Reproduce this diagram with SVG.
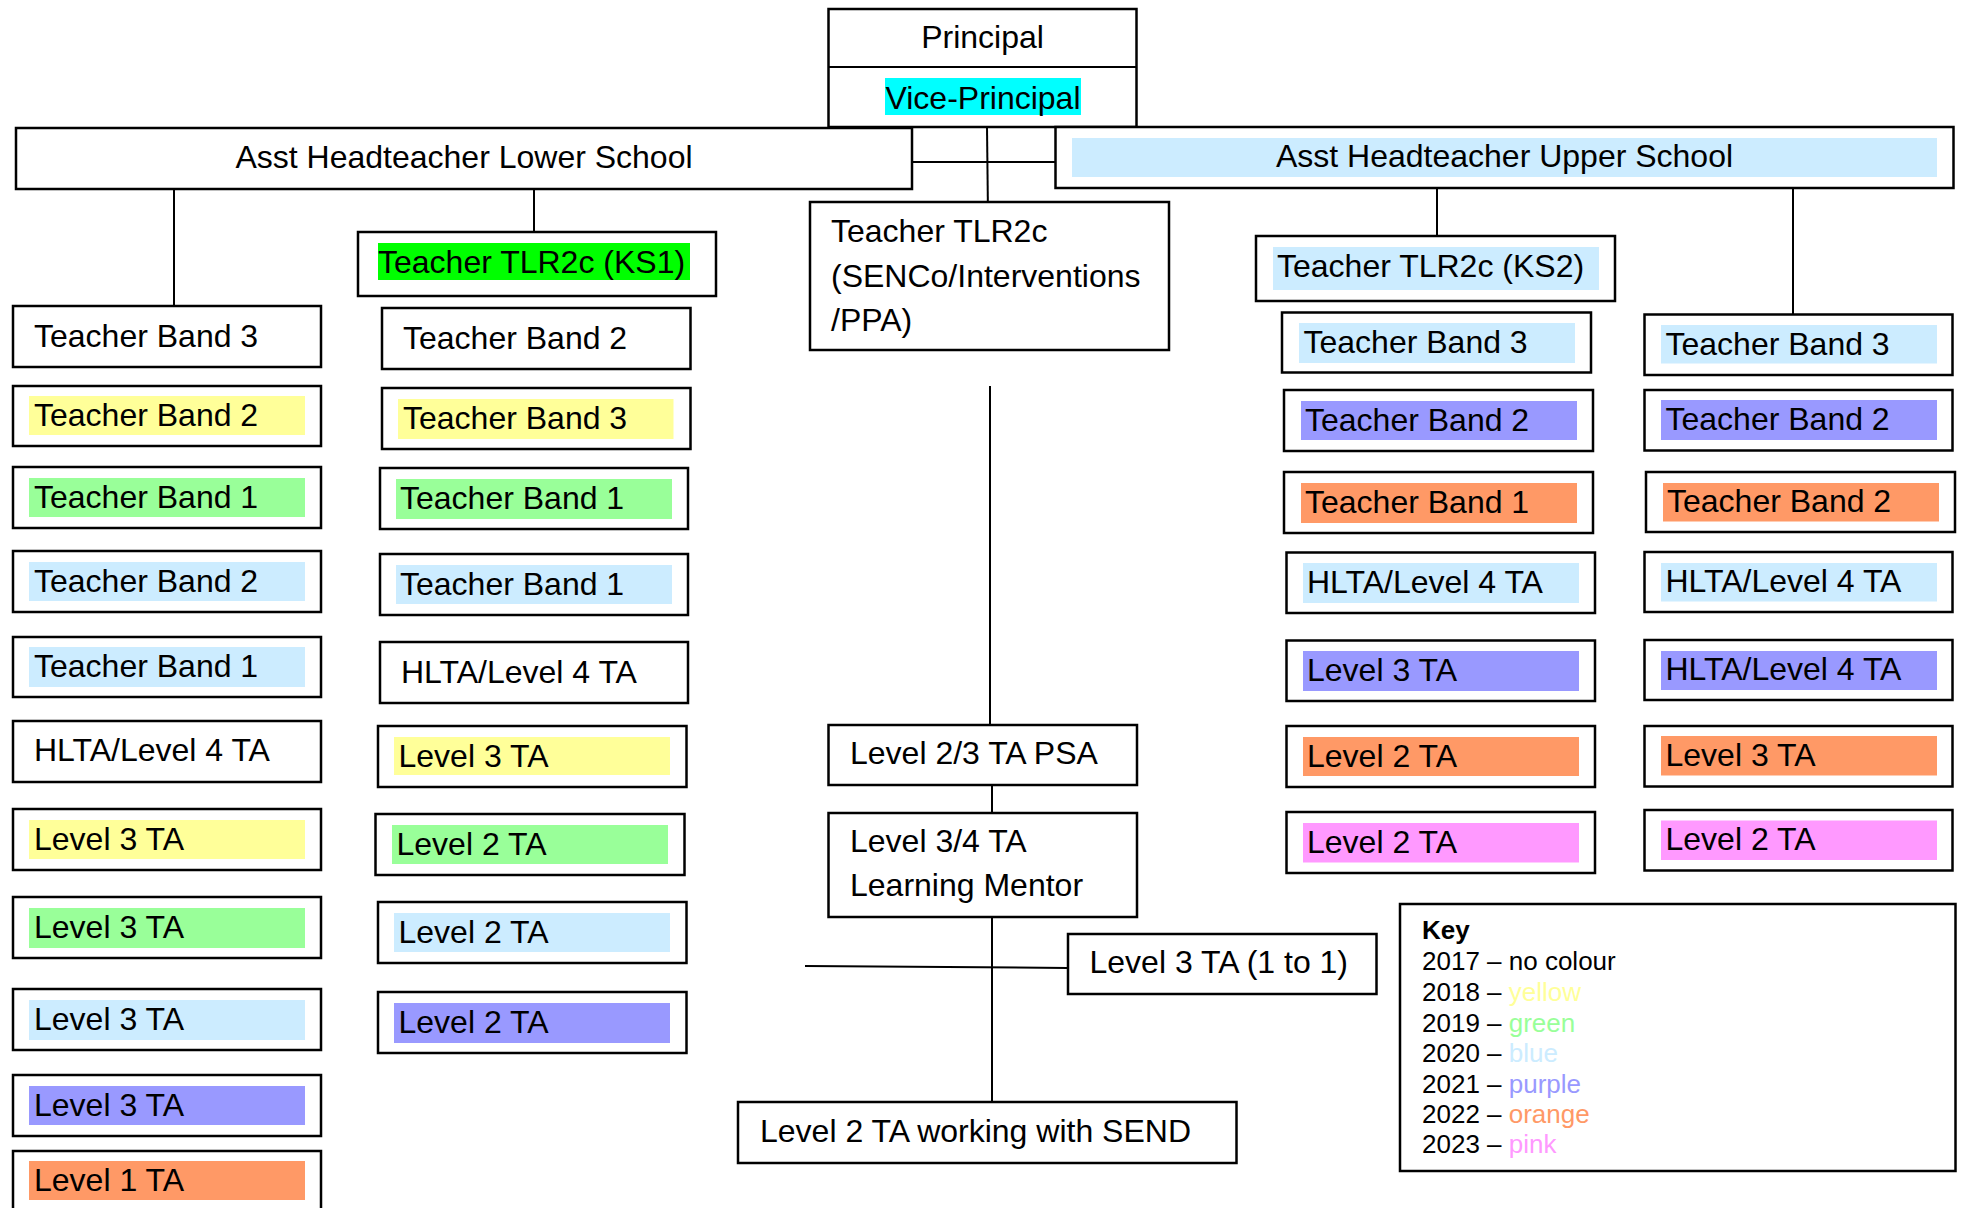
<svg xmlns="http://www.w3.org/2000/svg" width="1966" height="1208" viewBox="0 0 1966 1208">
<style>
.box{fill:#fff;stroke:#000;stroke-width:2.5}
.t{font-family:"Liberation Sans",Arial,sans-serif;font-size:32px;fill:#000}
.k{font-family:"Liberation Sans",Arial,sans-serif;font-size:26px;fill:#000}
.c{stroke:#000;stroke-width:2;fill:none}
.y{fill:#FFFF99}.g{fill:#99FF99}.b{fill:#CCECFF}.p{fill:#9999FF}.o{fill:#FF9966}.pk{fill:#FF99FF}
</style>
<rect width="1966" height="1208" fill="#fff"/>
<g id="connectors">
<line class="c" x1="174" y1="189" x2="174" y2="306"/>
<line class="c" x1="534" y1="189" x2="534" y2="232"/>
<line class="c" x1="912" y1="162" x2="1056" y2="162"/>
<line class="c" x1="987" y1="127" x2="988" y2="216"/>
<line class="c" x1="990" y1="386" x2="990" y2="725"/>
<line class="c" x1="992" y1="785" x2="992" y2="813"/>
<line class="c" x1="992" y1="917" x2="992" y2="1102"/>
<line class="c" x1="805" y1="966" x2="1068" y2="968"/>
<line class="c" x1="1437" y1="188" x2="1437" y2="236"/>
<line class="c" x1="1793" y1="188" x2="1793" y2="314"/>
</g>
<g id="principal">
<rect class="box" x="828.5" y="9" width="308" height="118"/>
<line class="c" x1="828.5" y1="67" x2="1136.5" y2="67"/>
<text class="t" x="982.5" y="48" text-anchor="middle">Principal</text>
<rect x="885" y="78" width="196" height="37" fill="#00FFFF"/>
<text class="t" x="983" y="109" text-anchor="middle">Vice-Principal</text>
</g>
<g id="lower-school">
<rect class="box" x="16" y="128" width="896" height="61"/>
<text class="t" x="464" y="168" text-anchor="middle">Asst Headteacher Lower School</text>
</g>
<g id="upper-school">
<rect class="box" x="1055.5" y="127" width="898" height="61"/>
<rect class="b" x="1072" y="138" width="865" height="39"/>
<text class="t" x="1504.5" y="167" text-anchor="middle">Asst Headteacher Upper School</text>
</g>
<g id="tlr-ks1">
<rect class="box" x="358" y="232" width="358" height="64"/>
<rect x="378" y="243" width="312" height="37" fill="#00FF00"/>
<text class="t" x="378" y="273">Teacher TLR2c (KS1)</text>
</g>
<g id="tlr-senco">
<rect class="box" x="810" y="202" width="359" height="148"/>
<text class="t" x="831" y="242">Teacher TLR2c</text>
<text class="t" x="831" y="287">(SENCo/Interventions</text>
<text class="t" x="831" y="331">/PPA)</text>
</g>
<g id="tlr-ks2">
<rect class="box" x="1256" y="236" width="359" height="65"/>
<rect class="b" x="1273" y="247" width="326" height="43"/>
<text class="t" x="1277" y="277">Teacher TLR2c (KS2)</text>
</g>

<!-- Column A -->
<g id="a1"><rect class="box" x="13" y="306" width="308" height="61"/><text class="t" x="34" y="347">Teacher Band 3</text></g>
<g id="a2"><rect class="box" x="13" y="386" width="308" height="60"/><rect class="y" x="29" y="396" width="276" height="39"/><text class="t" x="34" y="426">Teacher Band 2</text></g>
<g id="a3"><rect class="box" x="13" y="467" width="308" height="61"/><rect class="g" x="29" y="478" width="276" height="39"/><text class="t" x="34" y="508">Teacher Band 1</text></g>
<g id="a4"><rect class="box" x="13" y="551" width="308" height="61"/><rect class="b" x="29" y="562" width="276" height="39"/><text class="t" x="34" y="592">Teacher Band 2</text></g>
<g id="a5"><rect class="box" x="13" y="637" width="308" height="60"/><rect class="b" x="29" y="647" width="276" height="40"/><text class="t" x="34" y="677">Teacher Band 1</text></g>
<g id="a6"><rect class="box" x="13" y="721" width="308" height="61"/><text class="t" x="34" y="761">HLTA/Level 4 TA</text></g>
<g id="a7"><rect class="box" x="13" y="809" width="308" height="61"/><rect class="y" x="29" y="820" width="276" height="39"/><text class="t" x="34" y="850">Level 3 TA</text></g>
<g id="a8"><rect class="box" x="13" y="897" width="308" height="61"/><rect class="g" x="29" y="908" width="276" height="40"/><text class="t" x="34" y="938">Level 3 TA</text></g>
<g id="a9"><rect class="box" x="13" y="989" width="308" height="61"/><rect class="b" x="29" y="1000" width="276" height="40"/><text class="t" x="34" y="1030">Level 3 TA</text></g>
<g id="a10"><rect class="box" x="13" y="1075" width="308" height="61"/><rect class="p" x="29" y="1086" width="276" height="39"/><text class="t" x="34" y="1116">Level 3 TA</text></g>
<g id="a11"><rect class="box" x="13" y="1151" width="308" height="70"/><rect class="o" x="29" y="1161" width="276" height="39"/><text class="t" x="34" y="1191">Level 1 TA</text></g>

<!-- Column B -->
<g id="b1"><rect class="box" x="382" y="308" width="308.5" height="61"/><text class="t" x="403" y="349">Teacher Band 2</text></g>
<g id="b2"><rect class="box" x="382" y="388" width="308.5" height="61"/><rect class="y" x="398" y="399" width="275.5" height="40"/><text class="t" x="403" y="429">Teacher Band 3</text></g>
<g id="b3"><rect class="box" x="380" y="468" width="308" height="61"/><rect class="g" x="396" y="479" width="276" height="40"/><text class="t" x="400" y="509">Teacher Band 1</text></g>
<g id="b4"><rect class="box" x="380" y="554" width="308" height="61"/><rect class="b" x="396" y="565" width="276" height="39"/><text class="t" x="400" y="595">Teacher Band 1</text></g>
<g id="b5"><rect class="box" x="380" y="642" width="308" height="61"/><text class="t" x="401" y="683">HLTA/Level 4 TA</text></g>
<g id="b6"><rect class="box" x="378" y="726" width="308.5" height="61"/><rect class="y" x="394" y="737" width="276" height="38"/><text class="t" x="398.5" y="767">Level 3 TA</text></g>
<g id="b7"><rect class="box" x="375.5" y="814" width="309" height="61"/><rect class="g" x="392" y="825" width="276" height="39"/><text class="t" x="396.5" y="855">Level 2 TA</text></g>
<g id="b8"><rect class="box" x="378" y="902" width="308.5" height="61"/><rect class="b" x="394" y="913" width="276" height="39"/><text class="t" x="398.5" y="943">Level 2 TA</text></g>
<g id="b9"><rect class="box" x="378" y="992" width="308.5" height="61"/><rect class="p" x="394" y="1003" width="276" height="40"/><text class="t" x="398.5" y="1033">Level 2 TA</text></g>

<!-- Centre column -->
<g id="psa"><rect class="box" x="828.5" y="725" width="308.5" height="60"/><text class="t" x="850" y="764">Level 2/3 TA PSA</text></g>
<g id="mentor"><rect class="box" x="828.5" y="813" width="308.5" height="104"/><text class="t" x="850" y="852">Level 3/4 TA</text><text class="t" x="850" y="896">Learning Mentor</text></g>
<g id="one-to-one"><rect class="box" x="1068" y="934" width="308.5" height="60"/><text class="t" x="1089.5" y="973">Level 3 TA (1 to 1)</text></g>
<g id="send"><rect class="box" x="738" y="1102" width="498.5" height="61"/><text class="t" x="760" y="1142">Level 2 TA working with SEND</text></g>

<!-- Column C -->
<g id="c1"><rect class="box" x="1282" y="312.5" width="309" height="60"/><rect class="b" x="1299" y="323" width="276" height="40"/><text class="t" x="1303.5" y="353">Teacher Band 3</text></g>
<g id="c2"><rect class="box" x="1284" y="390" width="309" height="61"/><rect class="p" x="1301" y="401" width="276" height="39"/><text class="t" x="1305" y="431">Teacher Band 2</text></g>
<g id="c3"><rect class="box" x="1284" y="472" width="309" height="61"/><rect class="o" x="1301" y="483" width="276" height="40"/><text class="t" x="1305" y="513">Teacher Band 1</text></g>
<g id="c4"><rect class="box" x="1286.5" y="552.5" width="308.5" height="60.5"/><rect class="b" x="1303" y="563" width="276" height="40"/><text class="t" x="1307" y="593">HLTA/Level 4 TA</text></g>
<g id="c5"><rect class="box" x="1286.5" y="640.5" width="308.5" height="60.5"/><rect class="p" x="1303" y="651" width="276" height="40"/><text class="t" x="1307" y="681">Level 3 TA</text></g>
<g id="c6"><rect class="box" x="1286.5" y="726" width="308.5" height="61"/><rect class="o" x="1303" y="737" width="276" height="39"/><text class="t" x="1307" y="767">Level 2 TA</text></g>
<g id="c7"><rect class="box" x="1286.5" y="812" width="308.5" height="61"/><rect class="pk" x="1303" y="823" width="276" height="39.5"/><text class="t" x="1307" y="853">Level 2 TA</text></g>

<!-- Column D -->
<g id="d1"><rect class="box" x="1644.5" y="314.5" width="308" height="60.5"/><rect class="b" x="1661" y="325" width="276" height="38.5"/><text class="t" x="1665.5" y="355">Teacher Band 3</text></g>
<g id="d2"><rect class="box" x="1644.5" y="390" width="308" height="60.5"/><rect class="p" x="1661" y="400" width="276" height="40"/><text class="t" x="1665.5" y="430">Teacher Band 2</text></g>
<g id="d3"><rect class="box" x="1646" y="472" width="309" height="60"/><rect class="o" x="1663" y="483" width="276" height="38.5"/><text class="t" x="1667" y="512">Teacher Band 2</text></g>
<g id="d4"><rect class="box" x="1644.5" y="552" width="308" height="60"/><rect class="b" x="1661" y="563" width="276" height="38.5"/><text class="t" x="1665.5" y="592">HLTA/Level 4 TA</text></g>
<g id="d5"><rect class="box" x="1644.5" y="640" width="308" height="60"/><rect class="p" x="1661" y="651" width="276" height="39"/><text class="t" x="1665.5" y="680">HLTA/Level 4 TA</text></g>
<g id="d6"><rect class="box" x="1644.5" y="726" width="308" height="60.5"/><rect class="o" x="1661" y="736" width="276" height="39.5"/><text class="t" x="1665.5" y="766">Level 3 TA</text></g>
<g id="d7"><rect class="box" x="1644.5" y="810" width="308" height="60.5"/><rect class="pk" x="1661" y="820.5" width="276" height="39.5"/><text class="t" x="1665.5" y="850">Level 2 TA</text></g>

<!-- Key -->
<g id="key">
<rect class="box" x="1400" y="904" width="555.5" height="267"/>
<text class="k" x="1422" y="939" font-weight="bold">Key</text>
<text class="k" x="1422" y="970">2017 – no colour</text>
<text class="k" x="1422" y="1001">2018 – <tspan fill="#FFFF99">yellow</tspan></text>
<text class="k" x="1422" y="1032">2019 – <tspan fill="#99FF99">green</tspan></text>
<text class="k" x="1422" y="1062">2020 – <tspan fill="#CCECFF">blue</tspan></text>
<text class="k" x="1422" y="1093">2021 – <tspan fill="#9999FF">purple</tspan></text>
<text class="k" x="1422" y="1123">2022 – <tspan fill="#FF9966">orange</tspan></text>
<text class="k" x="1422" y="1153">2023 – <tspan fill="#FF99FF">pink</tspan></text>
</g>
</svg>
